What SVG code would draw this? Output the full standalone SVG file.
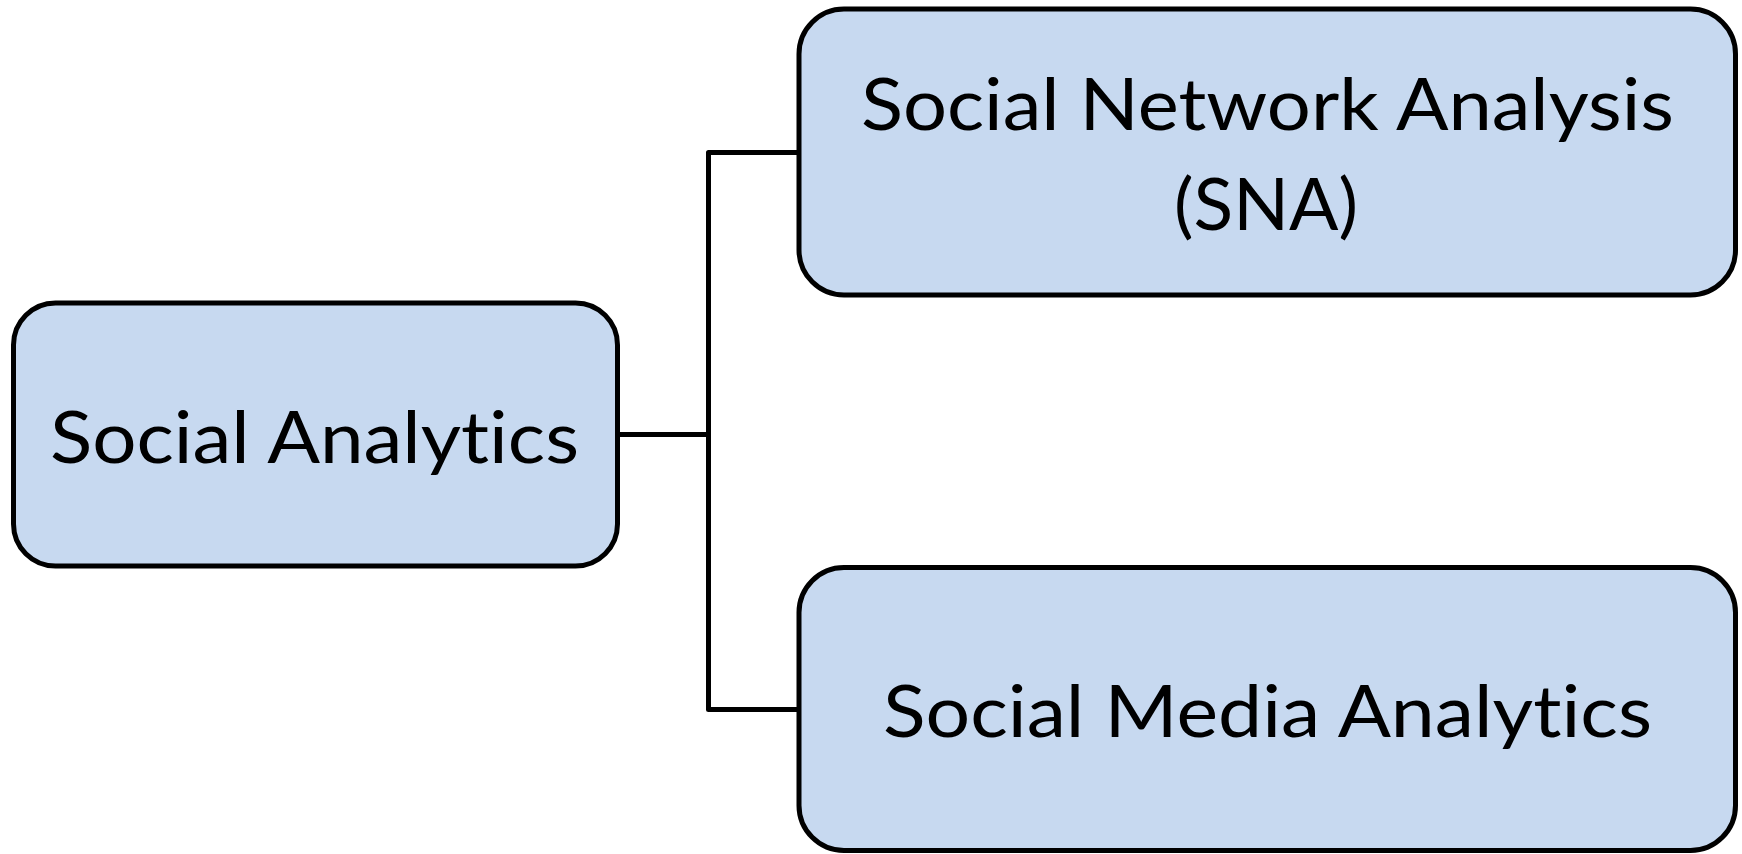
<svg xmlns="http://www.w3.org/2000/svg" width="1742" height="854" viewBox="0 0 1742 854">
<style>
.box{fill:#c7d9f0;stroke:#000;stroke-width:5}
.lbl{font-family:Lato,"Open Sans","Liberation Sans",sans-serif;font-size:71px;fill:#000;text-anchor:middle;font-variant-ligatures:none;font-feature-settings:"liga" 0,"clig" 0}
.conn{fill:none;stroke:#000;stroke-width:5;stroke-linejoin:round}
</style>
<rect width="1742" height="854" fill="#fff"/>
<g id="connectors">
<path class="conn" d="M617.5 434.5 H708.5 M799 152.5 H708.5 V709.5 H799"/>
</g>
<g id="node-social-analytics">
<rect class="box" x="13.5" y="303" width="604" height="263" rx="42"/>
<text class="lbl" x="314.5" y="463" textLength="529" lengthAdjust="spacingAndGlyphs">Social Analytics</text>
</g>
<g id="node-sna">
<rect class="box" x="799" y="9" width="936.5" height="286" rx="45"/>
<text class="lbl" x="1267.5" y="130" textLength="813" lengthAdjust="spacingAndGlyphs">Social Network Analysis</text>
<text class="lbl" x="1266" y="230" textLength="184" lengthAdjust="spacingAndGlyphs">(SNA)</text>
</g>
<g id="node-sma">
<rect class="box" x="799" y="567.5" width="936.5" height="283" rx="45"/>
<text class="lbl" x="1267.5" y="737" textLength="769" lengthAdjust="spacingAndGlyphs">Social Media Analytics</text>
</g>
</svg>
